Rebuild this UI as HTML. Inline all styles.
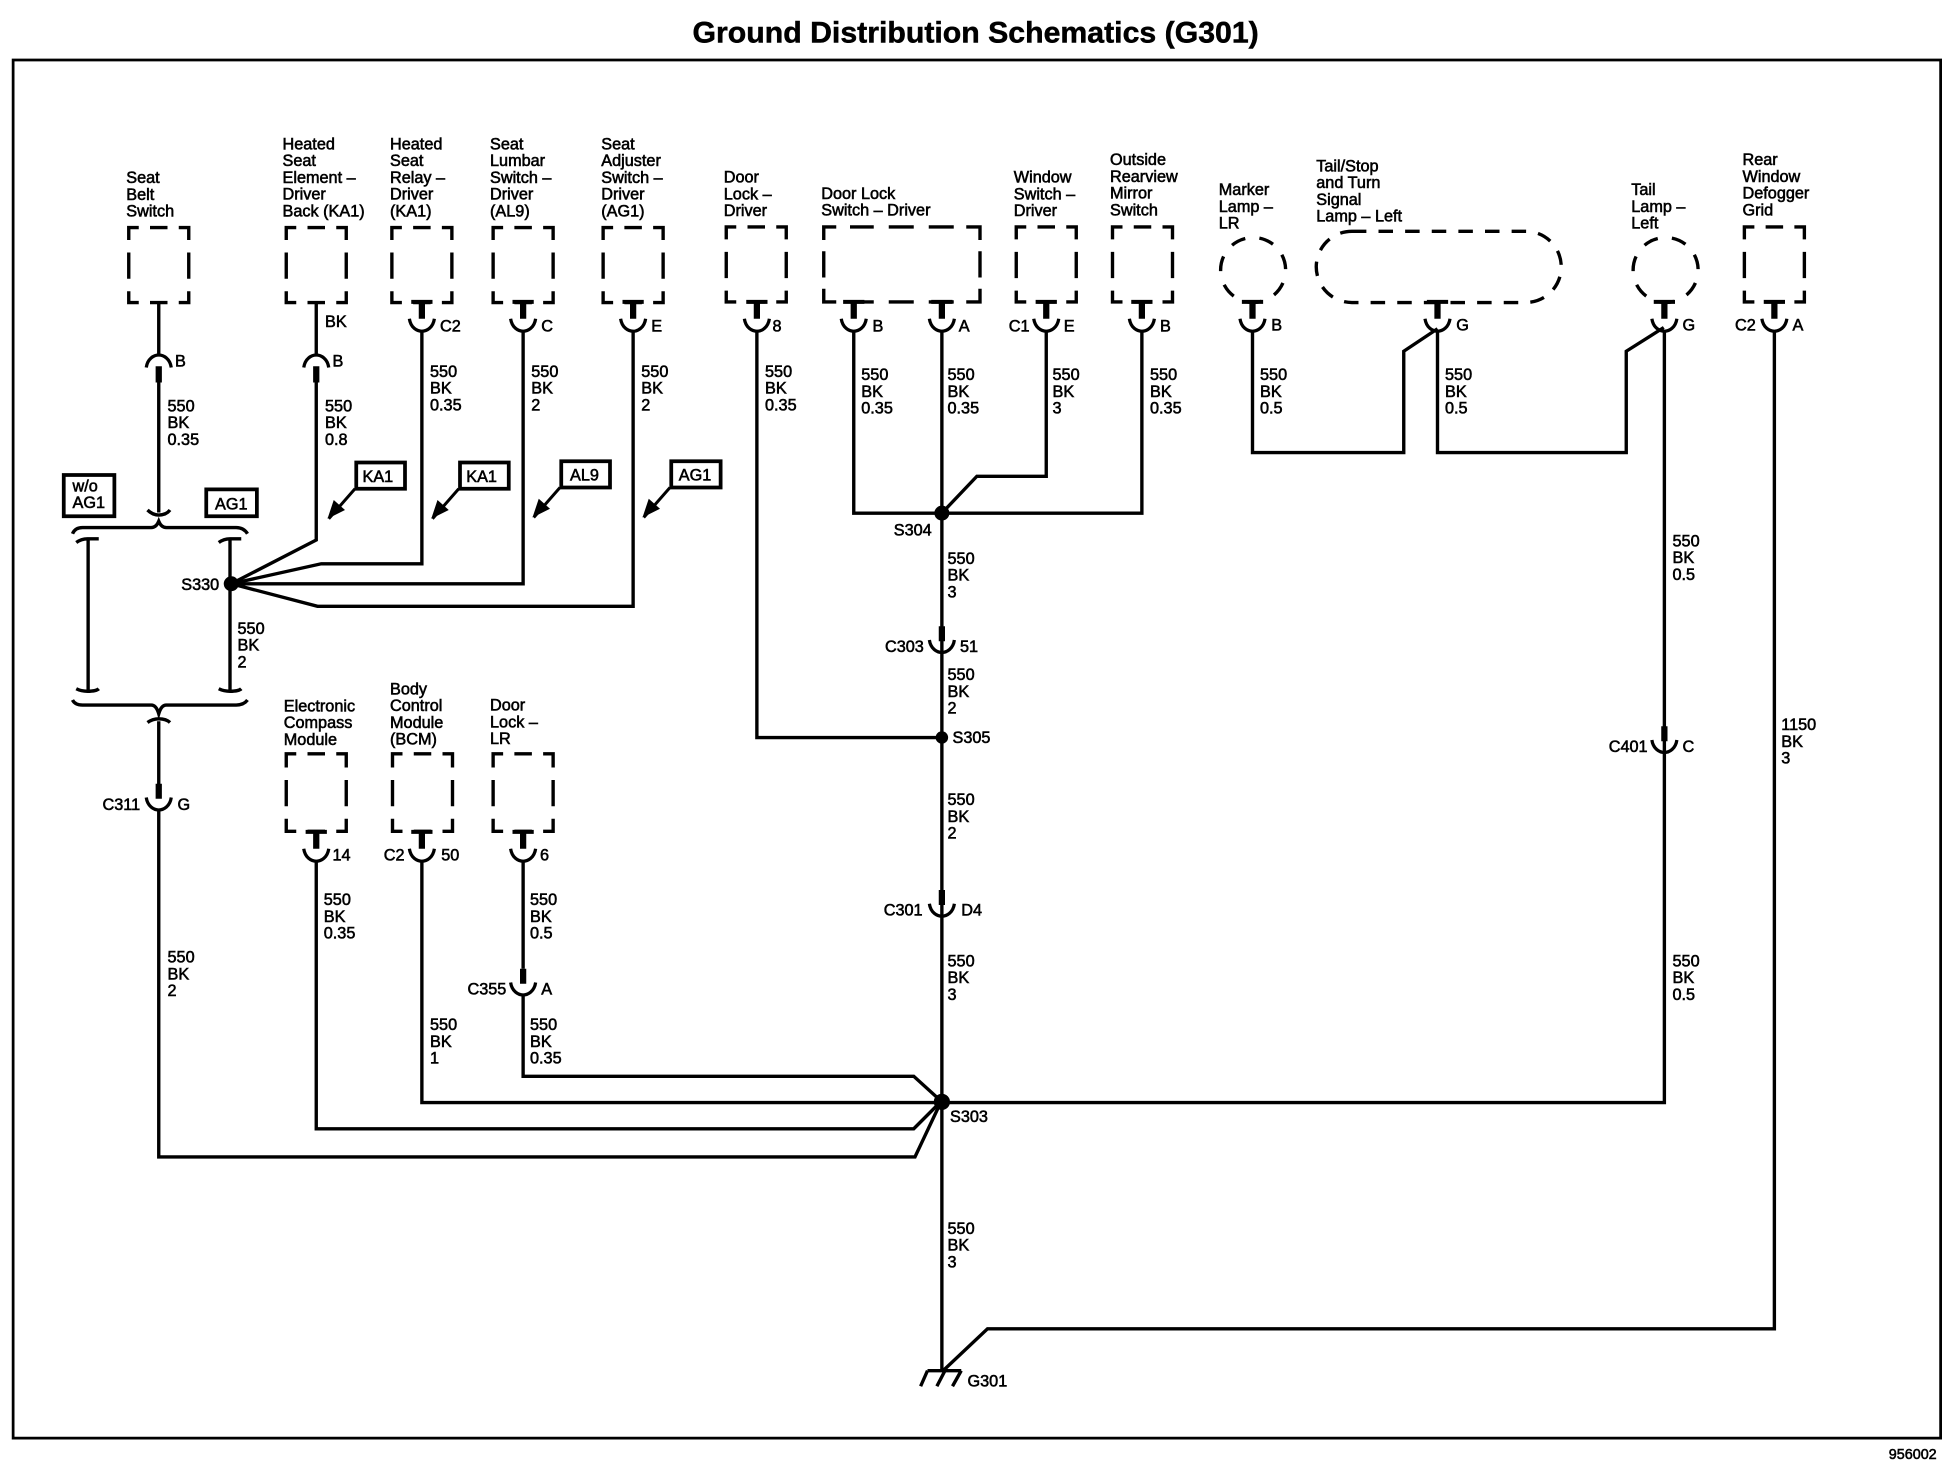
<!DOCTYPE html>
<html><head><meta charset="utf-8"><title>Ground Distribution Schematics (G301)</title>
<style>
html,body{margin:0;padding:0;background:#fff}
svg{display:block}
text{font-family:"Liberation Sans",sans-serif;font-size:13px;fill:#000;stroke:#000;stroke-width:.45}
.w{fill:none;stroke:#000;stroke-width:2.7;stroke-linejoin:miter}
.d{fill:none;stroke:#000;stroke-width:2.7}
.b{fill:#fff;stroke:#000;stroke-width:3}
</style></head><body>
<svg xmlns="http://www.w3.org/2000/svg" width="1960" height="1472" viewBox="0 0 1568 1177.6">
<defs>
<g id="c"><path d="M0-16V-4" fill="none" stroke="#000" stroke-width="5"/><path d="M-10-5C-9 2-4 5 0 5C4 5 9 2 10-5" fill="none" stroke="#000" stroke-width="2.6"/></g>
<g id="tc"><path d="M-8.5-18.5H8.5" fill="none" stroke="#000" stroke-width="3.2"/><path d="M0-19V-5" fill="none" stroke="#000" stroke-width="5"/><path d="M-10-5C-9 2-4 5 0 5C4 5 9 2 10-5" fill="none" stroke="#000" stroke-width="2.6"/></g>
<g id="a"><path d="M-10 6C-9-1-4-4 0-4C4-4 9-1 10 6" fill="none" stroke="#000" stroke-width="2.6"/><path d="M0 5V18" fill="none" stroke="#000" stroke-width="5"/></g>
<path id="bx" class="d" d="M0 10V0H8M17 0H31M40 0H48V10M0 20V41M48 20V41M0 51V60H8M17 60H31M40 60H48V51"/>
<path id="bl" class="d" d="M0 11V0H8M17 0H31M40 0H48V11M0 21V42M48 21V42M0 52V62H8M17 62H31M40 62H48V52"/>
<path id="ar" d="M0 0L-21 24" fill="none" stroke="#000" stroke-width="2.4"/>
<path id="ah" d="M-22 24L-17 9L-8 17Z" fill="#000"/>
</defs>

<!-- title -->
<text x="554" y="34" textLength="453" lengthAdjust="spacingAndGlyphs" style="font-size:24px;font-weight:bold;stroke-width:.4">Ground Distribution Schematics (G301)</text>
<rect x="10.5" y="48" width="1542" height="1102.5" fill="none" stroke="#000" stroke-width="2.2"/>
<text x="1511" y="1167" style="font-size:11.5px">956002</text>

<!-- boxes -->
<use href="#bx" x="103" y="182"/><use href="#bx" x="229" y="182"/><use href="#bx" x="313.5" y="182"/><use href="#bx" x="394.5" y="182"/><use href="#bx" x="482.5" y="182"/>
<use href="#bx" x="581" y="181.5"/><use href="#bx" x="813" y="181.5"/><use href="#bx" x="890" y="181.5"/><use href="#bx" x="1395.5" y="181.5"/>
<path class="d" d="M659 192V181.5H669M680 181.5H699M711 181.5H731M743 181.5H763M773 181.5H784V192M659 201V222M784 201V222M659 231V241.5H669M680 241.5H699M711 241.5H731M743 241.5H763M773 241.5H784V231"/>
<use href="#bl" x="229" y="603"/><use href="#bl" x="314" y="603"/><use href="#bl" x="394.5" y="603"/>
<circle class="d" cx="1002.5" cy="216" r="26" stroke-dasharray="12 11.34" transform="rotate(-28 1002.5 216)"/>
<circle class="d" cx="1332.5" cy="216" r="26" stroke-dasharray="12 11.34" transform="rotate(-28 1332.5 216)"/>
<rect class="d" x="1053" y="185" width="196" height="57" rx="28.5" ry="28.5" stroke-dasharray="11.6 9.7"/>

<!-- wires -->
<path class="w" d="M127 242V284M127 300V410"/>
<path class="w" d="M253 242V284M253 300V432L185 467"/>
<path class="w" d="M337.5 264V451H257L185 467"/>
<path class="w" d="M418.5 264V467H185"/>
<path class="w" d="M506.5 264V485H254L185 467"/>
<path class="w" d="M184 432V553M70.5 432V553"/>
<path class="w" d="M127 577V630M127 647V925.5H732L753 881"/>
<path class="w" d="M253 688V903H731L753 881"/>
<path class="w" d="M337.5 688V882H753"/>
<path class="w" d="M418.5 688V775M418.5 795V861H731L753 881"/>
<path class="w" d="M605.5 264V590H753"/>
<path class="w" d="M683 264V410.5H913.5V264"/>
<path class="w" d="M837 264V381H781.5L753 411"/>
<path class="w" d="M753.5 264V1097"/>
<path class="w" d="M1002 264V362H1123V281L1150 263"/>
<path class="w" d="M1150 264V362H1301V281L1331 262"/>
<path class="w" d="M1331.5 264V882H753"/>
<path class="w" d="M1419.5 264V1063H790L754 1097"/>

<!-- ground -->
<path class="w" d="M742 1096.5H769M742 1096.5L736.5 1109M756 1096.5L749.5 1109M769 1096.5L762 1109"/>

<!-- splices -->
<circle cx="185" cy="467" r="6"/><circle cx="753.5" cy="410.5" r="6"/><circle cx="753.5" cy="590" r="5"/><circle cx="753.5" cy="881.5" r="6.5"/>

<!-- connectors -->
<use href="#a" x="127" y="288"/><use href="#a" x="253" y="288"/>
<use href="#tc" x="337.5" y="260"/><use href="#tc" x="418.5" y="260"/><use href="#tc" x="506.5" y="260"/>
<use href="#tc" x="605.5" y="260"/><use href="#tc" x="683" y="260"/><use href="#tc" x="753.5" y="260"/><use href="#tc" x="837" y="260"/><use href="#tc" x="913.5" y="260"/>
<use href="#tc" x="1002" y="260"/><use href="#tc" x="1150" y="260"/><use href="#tc" x="1331.5" y="260"/><use href="#tc" x="1419.5" y="260"/>
<use href="#tc" x="253" y="684"/><use href="#tc" x="337.5" y="684"/><use href="#tc" x="418.5" y="684"/>
<use href="#c" x="127" y="643"/><use href="#c" x="418.5" y="791"/><use href="#c" x="753.5" y="517"/><use href="#c" x="753.5" y="728"/><use href="#c" x="1331.5" y="597"/>

<!-- braces -->
<path class="w" d="M118 408Q122 412 127 412Q133 412 136 408"/>
<path class="w" d="M58 427Q60 422 66 422H121Q125 422 127 417Q129 422 133 422H189Q195 422 198 427"/>
<path class="w" d="M61 434Q65 431 70 431H79M175 434Q179 431 184 431H193"/>
<path class="w" d="M61 551Q65 553 70 553Q77 553 79 551M175 551Q179 553 184 553Q191 553 193 551"/>
<path class="w" d="M58 560Q60 564 66 564H121Q125 564 127 571Q129 564 133 564H189Q195 564 198 560"/>
<path class="w" d="M118 578Q122 575 127 575Q133 575 136 578"/>

<!-- option boxes -->
<rect class="b" x="51" y="380" width="40.5" height="33"/>
<text x="58" y="393">w/o<tspan x="58" dy="13.4">AG1</tspan></text>
<rect class="b" x="165" y="391.5" width="40.5" height="21.5"/>
<text x="172" y="407.5">AG1</text>
<g>
<use href="#ar" x="284" y="391"/><use href="#ah" x="284" y="391"/><rect class="b" x="285" y="370" width="39" height="21"/><text x="290" y="385.5">KA1</text>
<use href="#ar" x="367" y="391"/><use href="#ah" x="367" y="391"/><rect class="b" x="368" y="370" width="39" height="21"/><text x="373" y="385.5">KA1</text>
<use href="#ar" x="448" y="390"/><use href="#ah" x="448" y="390"/><rect class="b" x="449" y="369" width="39" height="21"/><text x="456" y="384.5">AL9</text>
<use href="#ar" x="536" y="390"/><use href="#ah" x="536" y="390"/><rect class="b" x="537" y="369" width="39.5" height="21"/><text x="543" y="384.5">AG1</text>
</g>

<!-- component names -->
<text x="101" y="146.5">Seat<tspan x="101" dy="13.4">Belt</tspan><tspan x="101" dy="13.4">Switch</tspan></text>
<text x="226" y="119.5">Heated<tspan x="226" dy="13.4">Seat</tspan><tspan x="226" dy="13.4">Element –</tspan><tspan x="226" dy="13.4">Driver</tspan><tspan x="226" dy="13.4">Back (KA1)</tspan></text>
<text x="312" y="119.5">Heated<tspan x="312" dy="13.4">Seat</tspan><tspan x="312" dy="13.4">Relay –</tspan><tspan x="312" dy="13.4">Driver</tspan><tspan x="312" dy="13.4">(KA1)</tspan></text>
<text x="392" y="119.5">Seat<tspan x="392" dy="13.4">Lumbar</tspan><tspan x="392" dy="13.4">Switch –</tspan><tspan x="392" dy="13.4">Driver</tspan><tspan x="392" dy="13.4">(AL9)</tspan></text>
<text x="481" y="119.5">Seat<tspan x="481" dy="13.4">Adjuster</tspan><tspan x="481" dy="13.4">Switch –</tspan><tspan x="481" dy="13.4">Driver</tspan><tspan x="481" dy="13.4">(AG1)</tspan></text>
<text x="579" y="146">Door<tspan x="579" dy="13.4">Lock –</tspan><tspan x="579" dy="13.4">Driver</tspan></text>
<text x="657" y="159">Door Lock<tspan x="657" dy="13.4">Switch – Driver</tspan></text>
<text x="811" y="146">Window<tspan x="811" dy="13.4">Switch –</tspan><tspan x="811" dy="13.4">Driver</tspan></text>
<text x="888" y="132">Outside<tspan x="888" dy="13.4">Rearview</tspan><tspan x="888" dy="13.4">Mirror</tspan><tspan x="888" dy="13.4">Switch</tspan></text>
<text x="975" y="156">Marker<tspan x="975" dy="13.4">Lamp –</tspan><tspan x="975" dy="13.4">LR</tspan></text>
<text x="1053" y="137">Tail/Stop<tspan x="1053" dy="13.4">and Turn</tspan><tspan x="1053" dy="13.4">Signal</tspan><tspan x="1053" dy="13.4">Lamp – Left</tspan></text>
<text x="1305" y="156">Tail<tspan x="1305" dy="13.4">Lamp –</tspan><tspan x="1305" dy="13.4">Left</tspan></text>
<text x="1394" y="132">Rear<tspan x="1394" dy="13.4">Window</tspan><tspan x="1394" dy="13.4">Defogger</tspan><tspan x="1394" dy="13.4">Grid</tspan></text>
<text x="227" y="569">Electronic<tspan x="227" dy="13.4">Compass</tspan><tspan x="227" dy="13.4">Module</tspan></text>
<text x="312" y="555.5">Body<tspan x="312" dy="13.4">Control</tspan><tspan x="312" dy="13.4">Module</tspan><tspan x="312" dy="13.4">(BCM)</tspan></text>
<text x="392" y="568.5">Door<tspan x="392" dy="13.4">Lock –</tspan><tspan x="392" dy="13.4">LR</tspan></text>

<!-- wire labels -->
<text x="134" y="329">550<tspan x="134" dy="13.4">BK</tspan><tspan x="134" dy="13.4">0.35</tspan></text>
<text x="260" y="261.5">BK</text>
<text x="260" y="329">550<tspan x="260" dy="13.4">BK</tspan><tspan x="260" dy="13.4">0.8</tspan></text>
<text x="344" y="301.5">550<tspan x="344" dy="13.4">BK</tspan><tspan x="344" dy="13.4">0.35</tspan></text>
<text x="425" y="301.5">550<tspan x="425" dy="13.4">BK</tspan><tspan x="425" dy="13.4">2</tspan></text>
<text x="513" y="301.5">550<tspan x="513" dy="13.4">BK</tspan><tspan x="513" dy="13.4">2</tspan></text>
<text x="612" y="301.5">550<tspan x="612" dy="13.4">BK</tspan><tspan x="612" dy="13.4">0.35</tspan></text>
<text x="689" y="304">550<tspan x="689" dy="13.4">BK</tspan><tspan x="689" dy="13.4">0.35</tspan></text>
<text x="758" y="304">550<tspan x="758" dy="13.4">BK</tspan><tspan x="758" dy="13.4">0.35</tspan></text>
<text x="842" y="304">550<tspan x="842" dy="13.4">BK</tspan><tspan x="842" dy="13.4">3</tspan></text>
<text x="920" y="304">550<tspan x="920" dy="13.4">BK</tspan><tspan x="920" dy="13.4">0.35</tspan></text>
<text x="1008" y="304">550<tspan x="1008" dy="13.4">BK</tspan><tspan x="1008" dy="13.4">0.5</tspan></text>
<text x="1156" y="304">550<tspan x="1156" dy="13.4">BK</tspan><tspan x="1156" dy="13.4">0.5</tspan></text>
<text x="1338" y="437">550<tspan x="1338" dy="13.4">BK</tspan><tspan x="1338" dy="13.4">0.5</tspan></text>
<text x="758" y="451">550<tspan x="758" dy="13.4">BK</tspan><tspan x="758" dy="13.4">3</tspan></text>
<text x="758" y="544">550<tspan x="758" dy="13.4">BK</tspan><tspan x="758" dy="13.4">2</tspan></text>
<text x="758" y="644">550<tspan x="758" dy="13.4">BK</tspan><tspan x="758" dy="13.4">2</tspan></text>
<text x="758" y="773">550<tspan x="758" dy="13.4">BK</tspan><tspan x="758" dy="13.4">3</tspan></text>
<text x="758" y="987">550<tspan x="758" dy="13.4">BK</tspan><tspan x="758" dy="13.4">3</tspan></text>
<text x="190" y="507">550<tspan x="190" dy="13.4">BK</tspan><tspan x="190" dy="13.4">2</tspan></text>
<text x="259" y="724">550<tspan x="259" dy="13.4">BK</tspan><tspan x="259" dy="13.4">0.35</tspan></text>
<text x="424" y="724">550<tspan x="424" dy="13.4">BK</tspan><tspan x="424" dy="13.4">0.5</tspan></text>
<text x="344" y="824">550<tspan x="344" dy="13.4">BK</tspan><tspan x="344" dy="13.4">1</tspan></text>
<text x="424" y="824">550<tspan x="424" dy="13.4">BK</tspan><tspan x="424" dy="13.4">0.35</tspan></text>
<text x="134" y="770">550<tspan x="134" dy="13.4">BK</tspan><tspan x="134" dy="13.4">2</tspan></text>
<text x="1338" y="773">550<tspan x="1338" dy="13.4">BK</tspan><tspan x="1338" dy="13.4">0.5</tspan></text>
<text x="1425" y="584">1150<tspan x="1425" dy="13.4">BK</tspan><tspan x="1425" dy="13.4">3</tspan></text>

<!-- connector / splice labels -->
<text x="140" y="293">B</text><text x="266" y="293">B</text>
<text x="352" y="265">C2</text><text x="433" y="265">C</text><text x="521" y="265">E</text>
<text x="618" y="265">8</text><text x="698" y="265">B</text><text x="767" y="265">A</text><text x="807" y="265">C1</text><text x="851" y="265">E</text><text x="928" y="265">B</text>
<text x="1017" y="264.5">B</text><text x="1165" y="264.5">G</text><text x="1346" y="264.5">G</text><text x="1388" y="264.5">C2</text><text x="1434" y="264.5">A</text>
<text x="82" y="648">C311</text><text x="142" y="648">G</text>
<text x="145" y="472">S330</text><text x="715" y="428.5">S304</text>
<text x="708" y="521.5">C303</text><text x="768" y="521.5">51</text>
<text x="762" y="594.5">S305</text>
<text x="707" y="732.5">C301</text><text x="769" y="732.5">D4</text>
<text x="266" y="688.5">14</text><text x="307" y="688.5">C2</text><text x="353" y="688.5">50</text><text x="432" y="688.5">6</text>
<text x="374" y="795.5">C355</text><text x="433" y="795.5">A</text>
<text x="1287" y="601.5">C401</text><text x="1346" y="601.5">C</text>
<text x="760" y="897.5">S303</text><text x="774" y="1109">G301</text>
</svg>
</body></html>
